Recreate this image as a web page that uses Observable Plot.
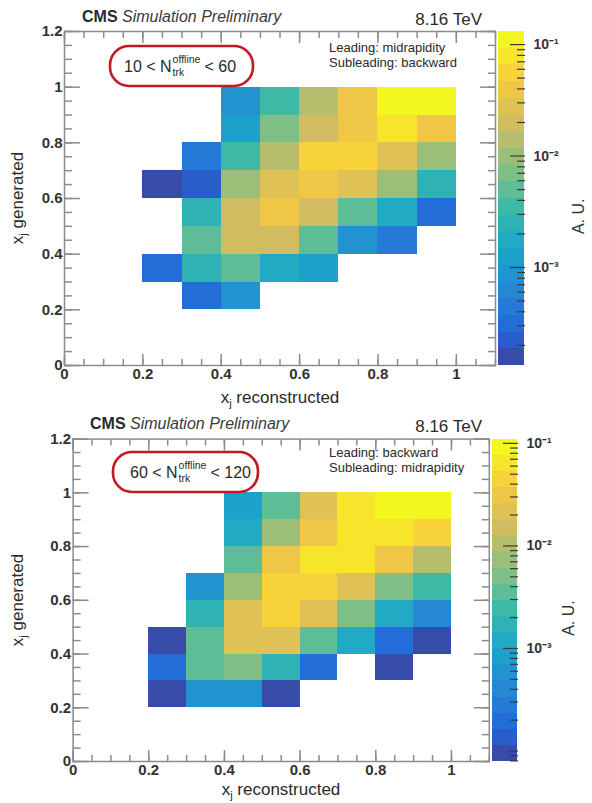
<!DOCTYPE html>
<html>
<head>
<meta charset="utf-8">
<script src="https://cdn.jsdelivr.net/npm/d3@7"></script>
<script src="https://cdn.jsdelivr.net/npm/@observablehq/plot@0.6"></script>
<style>
  html, body { margin: 0; padding: 0; background: #fff; }
  #root { position: relative; width: 592px; height: 803px; overflow: hidden; background: #fff;
          font-family: "Liberation Sans", Arial, Helvetica, sans-serif; }
</style>
</head>
<body>
<div id="root"></div>
<script>
// ---------------- data ----------------
const xBinLow = [0.2, 0.3, 0.4, 0.5, 0.6, 0.7, 0.8, 0.9];   // x_j reconstructed bin low edges
const yBinLow = [0.9, 0.8, 0.7, 0.6, 0.5, 0.4, 0.3, 0.2];   // x_j generated bin low edges (rows, top to bottom)
const binWidth = 0.1;

// Leading: midrapidity, Subleading: backward, 10 < Ntrk < 60
const topValues = [
  [null,   null,   8.8e-4, 3.4e-3, 1.4e-2, 3.9e-2, 0.11,   0.11  ],
  [null,   null,   1.2e-3, 6.8e-3, 2.0e-2, 3.8e-2, 7.6e-2, 4.0e-2],
  [null,   4.4e-4, 3.6e-3, 1.4e-2, 5.4e-2, 5.6e-2, 2.8e-2, 9.6e-3],
  [1.6e-4, 2.2e-4, 9.8e-3, 2.8e-2, 3.9e-2, 2.7e-2, 1.0e-2, 2.5e-3],
  [null,   2.5e-3, 1.9e-2, 3.9e-2, 1.9e-2, 4.9e-3, 1.7e-3, 3.1e-4],
  [null,   4.9e-3, 2.0e-2, 1.9e-2, 5.0e-3, 8.6e-4, 4.3e-4, null  ],
  [3.1e-4, 2.5e-3, 4.8e-3, 1.7e-3, 1.25e-3, null,  null,   null  ],
  [null,   3.1e-4, 8.9e-4, null,   null,   null,   null,   null  ]
];

// Leading: backward, Subleading: midrapidity, 60 < Ntrk < 120
const bottomValues = [
  [null,    null,   8.3e-4, 3.5e-3, 2.2e-2, 6.4e-2, 9.2e-2, 9.3e-2],
  [null,    null,   1.2e-3, 7.3e-3, 3.1e-2, 6.4e-2, 6.3e-2, 4.5e-2],
  [null,    null,   3.5e-3, 3.1e-2, 6.5e-2, 6.4e-2, 3.1e-2, 1.05e-2],
  [null,    5.8e-4, 7.3e-3, 4.5e-2, 4.4e-2, 2.2e-2, 5.1e-3, 2.5e-3],
  [null,    1.7e-3, 2.2e-2, 4.5e-2, 2.1e-2, 5.0e-3, 1.2e-3, 4.0e-4],
  [9.5e-5,  3.5e-3, 2.2e-2, 2.2e-2, 3.6e-3, 1.2e-3, 1.95e-4, 9.5e-5],
  [1.95e-4, 3.5e-3, 5.1e-3, 1.7e-3, 1.95e-4, null,  9.5e-5, null  ],
  [9.5e-5,  5.8e-4, 5.7e-4, 9.5e-5, null,   null,   null,   null  ]
];

const topZRange = [1.32e-4, 0.131];
const bottomZRange = [7.9e-5, 0.110];

const xTicks = [0, 0.2, 0.4, 0.6, 0.8, 1];
const yTicks = [0, 0.2, 0.4, 0.6, 0.8, 1, 1.2];
const zTicks = [1e-3, 1e-2, 1e-1];
const zTickLabels = ["10\u207B\u00B3", "10\u207B\u00B2", "10\u207B\u00B9"];

// ROOT kBird palette stops (style)
const birdStops = [0, 0.125, 0.25, 0.375, 0.5, 0.625, 0.75, 0.875, 1];
const birdR = [0.2082, 0.0592, 0.0780, 0.0232, 0.1802, 0.5301, 0.8186, 0.9956, 0.9764];
const birdG = [0.1664, 0.3599, 0.5041, 0.6419, 0.7178, 0.7492, 0.7328, 0.7862, 0.9832];
const birdB = [0.5293, 0.8684, 0.8385, 0.7914, 0.6425, 0.4662, 0.3499, 0.1968, 0.0539];
const nContours = 20;

// ---------------- helpers ----------------
const FONT = '"Liberation Sans", Arial, Helvetica, sans-serif';
const FRAME = "#8c8c8c";
const root = document.getElementById("root");

const wash = d3.rgb(200, 200, 190);
const bird = d3.scaleLinear()
  .domain(birdStops)
  .range(birdStops.map((_, i) => d3.interpolateRgb(d3.rgb(birdR[i] * 255, birdG[i] * 255, birdB[i] * 255), wash)(0.1)))
  .interpolate(d3.interpolateRgb);

function colorOptions(zRange) {
  const [l0, l1] = zRange.map(Math.log10);
  const thresholds = d3.range(1, nContours).map(k => 10 ** (l0 + (l1 - l0) * k / nContours));
  const range = d3.range(nContours).map(i => bird(Math.floor((i + 0.99) * 255 / nContours) / 254));
  return {type: "threshold", domain: thresholds, range};
}

function toCells(values) {
  const out = [];
  values.forEach((row, r) => row.forEach((v, c) => {
    if (v != null) out.push({x1: xBinLow[c], x2: xBinLow[c] + binWidth, y1: yBinLow[r], y2: yBinLow[r] + binWidth, value: v});
  }));
  return out;
}

const xMinor = d3.range(0, 1.1 + 1e-9, 0.05);
const yMinor = d3.range(0, 1.2 + 1e-9, 0.05);

function place(el, left, top) {
  el.style.position = "absolute";
  el.style.left = left + "px";
  el.style.top = top + "px";
  root.appendChild(el);
}

function mainPlot(values, zRange, g) {
  const tickStyle = {fill: "none", stroke: FRAME, strokeWidth: 1.5};
  return Plot.plot({
    width: g.w, height: g.h,
    marginLeft: g.ml, marginRight: g.mr, marginTop: g.mt, marginBottom: g.mb,
    style: {fontFamily: FONT, fontSize: "15px", background: "none", color: "#333", overflow: "visible"},
    x: {domain: [0, 1.1], label: null},
    y: {domain: [0, 1.2], label: null},
    color: colorOptions(zRange),
    marks: [
      Plot.rect(toCells(values), {x1: "x1", x2: "x2", y1: "y1", y2: "y2", fill: "value", shapeRendering: "crispEdges"}),
      Plot.frame({stroke: FRAME, strokeWidth: 1.5}),
      Plot.axisX(xMinor, {anchor: "bottom", tickSize: -6, ...tickStyle}),
      Plot.axisX(xTicks, {anchor: "bottom", tickSize: -11, ...tickStyle}),
      Plot.axisX(xMinor, {anchor: "top", tickSize: -6, ...tickStyle}),
      Plot.axisX(xTicks, {anchor: "top", tickSize: -11, ...tickStyle}),
      Plot.axisY(yMinor, {anchor: "left", tickSize: -8, ...tickStyle}),
      Plot.axisY(yTicks, {anchor: "left", tickSize: -16, ...tickStyle}),
      Plot.axisY(yMinor, {anchor: "right", tickSize: -8, ...tickStyle}),
      Plot.axisY(yTicks, {anchor: "right", tickSize: -16, ...tickStyle}),
      Plot.axisX(xTicks, {anchor: "bottom", tickSize: 0, tickPadding: 3, tickFormat: d => String(d), fontWeight: "bold", fill: "#333"}),
      Plot.axisY(yTicks, {anchor: "left", tickSize: 0, tickPadding: 2, tickFormat: d => String(d), fontWeight: "bold", fill: "#333"})
    ]
  });
}

function colorbarPlot(zRange, g) {
  const [l0, l1] = zRange.map(Math.log10);
  const bands = d3.range(nContours).map(i => ({
    lo: 10 ** (l0 + (l1 - l0) * i / nContours),
    hi: 10 ** (l0 + (l1 - l0) * (i + 1) / nContours),
    mid: 10 ** (l0 + (l1 - l0) * (i + 0.5) / nContours)
  }));
  const minor = d3.scaleLog().domain(zRange).ticks()
    .filter(t => !zTicks.some(m => Math.abs(m - t) / m < 1e-6));
  return Plot.plot({
    width: g.w, height: g.h,
    marginLeft: g.ml, marginRight: g.mr, marginTop: g.mt, marginBottom: g.mb,
    style: {fontFamily: FONT, fontSize: "14px", background: "none", color: "#333", overflow: "visible"},
    x: {domain: [0, 1], axis: null},
    y: {type: "log", domain: zRange, label: null},
    color: colorOptions(zRange),
    marks: [
      Plot.rect(bands, {y1: "lo", y2: "hi", fill: "mid", shapeRendering: "crispEdges"}),
      Plot.axisY(minor, {anchor: "right", tickSize: -8, fill: "none", stroke: "#3a3a3a", strokeWidth: 1.2}),
      Plot.axisY(zTicks, {anchor: "right", tickSize: -15, fill: "none", stroke: "#3a3a3a", strokeWidth: 1.2}),
      Plot.axisY(zTicks, {anchor: "right", tickSize: 0, tickPadding: 9, fontWeight: "bold", fill: "#333",
        tickFormat: d => zTickLabels[zTicks.findIndex(m => Math.abs(m - d) / m < 1e-6)]}),
      Plot.text(["A. U."], {text: d => d, frameAnchor: "right", rotate: -90, dx: g.auDx, fontSize: 16, fill: "#333"})
    ]
  });
}

// ---------------- panels ----------------
place(mainPlot(topValues, topZRange, {w: 498, h: 410, ml: 64, mr: 3, mt: 31, mb: 45}), 0, 0);
place(colorbarPlot(topZRange, {w: 102, h: 410, ml: 8, mr: 68, mt: 31, mb: 45, auDx: 54}), 490, 0);
place(mainPlot(bottomValues, bottomZRange, {w: 490, h: 403, ml: 72.6, mr: 1.2, mt: 38.6, mb: 42}), 0, 400);
place(colorbarPlot(bottomZRange, {w: 108, h: 403, ml: 8, mr: 75, mt: 38.6, mb: 42, auDx: 51}), 484, 400);

// ---------------- annotations ----------------
const NS = "http://www.w3.org/2000/svg";
const ov = document.createElementNS(NS, "svg");
ov.setAttribute("width", 592); ov.setAttribute("height", 803);
ov.style.pointerEvents = "none";
ov.style.fontFamily = FONT;
place(ov, 0, 0);

function txt(x, y, content, attrs = {}) {
  const t = document.createElementNS(NS, "text");
  t.setAttribute("x", x); t.setAttribute("y", y);
  t.setAttribute("fill", "#2a2a2a");
  for (const k in attrs) t.setAttribute(k, attrs[k]);
  t.innerHTML = content;
  ov.appendChild(t);
  return t;
}

function header(p) {
  txt(p.cmsX, p.cmsY, '<tspan font-weight="bold">CMS</tspan> <tspan font-style="italic" fill="#3a3a3a">Simulation Preliminary</tspan>', {"font-size": 16});
  txt(482, p.tevY, "8.16 TeV", {"font-size": 17, "text-anchor": "end"});
  txt(329, p.legY, p.lead, {"font-size": 13});
  txt(329, p.legY + 15, p.sub, {"font-size": 13});
  const r = document.createElementNS(NS, "rect");
  const [bx, by, bw, bh] = p.box;
  r.setAttribute("x", bx); r.setAttribute("y", by); r.setAttribute("width", bw); r.setAttribute("height", bh);
  r.setAttribute("rx", 19); r.setAttribute("fill", "none"); r.setAttribute("stroke", "#c21a22"); r.setAttribute("stroke-width", 2.6);
  ov.appendChild(r);
  const t1 = txt(p.nX, p.nY, p.lo + " &lt; N", {"font-size": 16});
  const w1 = t1.getComputedTextLength();
  const sup = txt(p.nX + w1 + 1, p.nY - 9, "offline", {"font-size": 10.5});
  txt(p.nX + w1 + 1, p.nY + 3.5, "trk", {"font-size": 10.5});
  const ws = sup.getComputedTextLength();
  txt(p.nX + w1 + ws + 5, p.nY, "&lt; " + p.hi, {"font-size": 16});
  // axis titles
  txt(p.xtX, p.xtY, 'x<tspan font-size="11" dy="4">j</tspan><tspan dy="-4"> reconstructed</tspan>', {"font-size": 17, "text-anchor": "middle"});
  txt(0, 0, 'x<tspan font-size="11" dy="4">j</tspan><tspan dy="-4"> generated</tspan>',
      {"font-size": 17, "text-anchor": "middle", transform: `translate(${p.ytX},${p.ytY}) rotate(-90)`});
}

header({cmsX: 82, cmsY: 22, tevY: 25, legY: 52, lead: "Leading: midrapidity", sub: "Subleading: backward",
        box: [110, 46, 143, 40], nX: 124, nY: 72, lo: "10", hi: "60", xtX: 280, xtY: 403, ytX: 23, ytY: 198});
header({cmsX: 90, cmsY: 429, tevY: 432, legY: 457, lead: "Leading: backward", sub: "Subleading: midrapidity",
        box: [113, 452, 145, 40], nX: 130, nY: 478, lo: "60", hi: "120", xtX: 281, xtY: 795, ytX: 23, ytY: 600});
</script>
</body>
</html>
